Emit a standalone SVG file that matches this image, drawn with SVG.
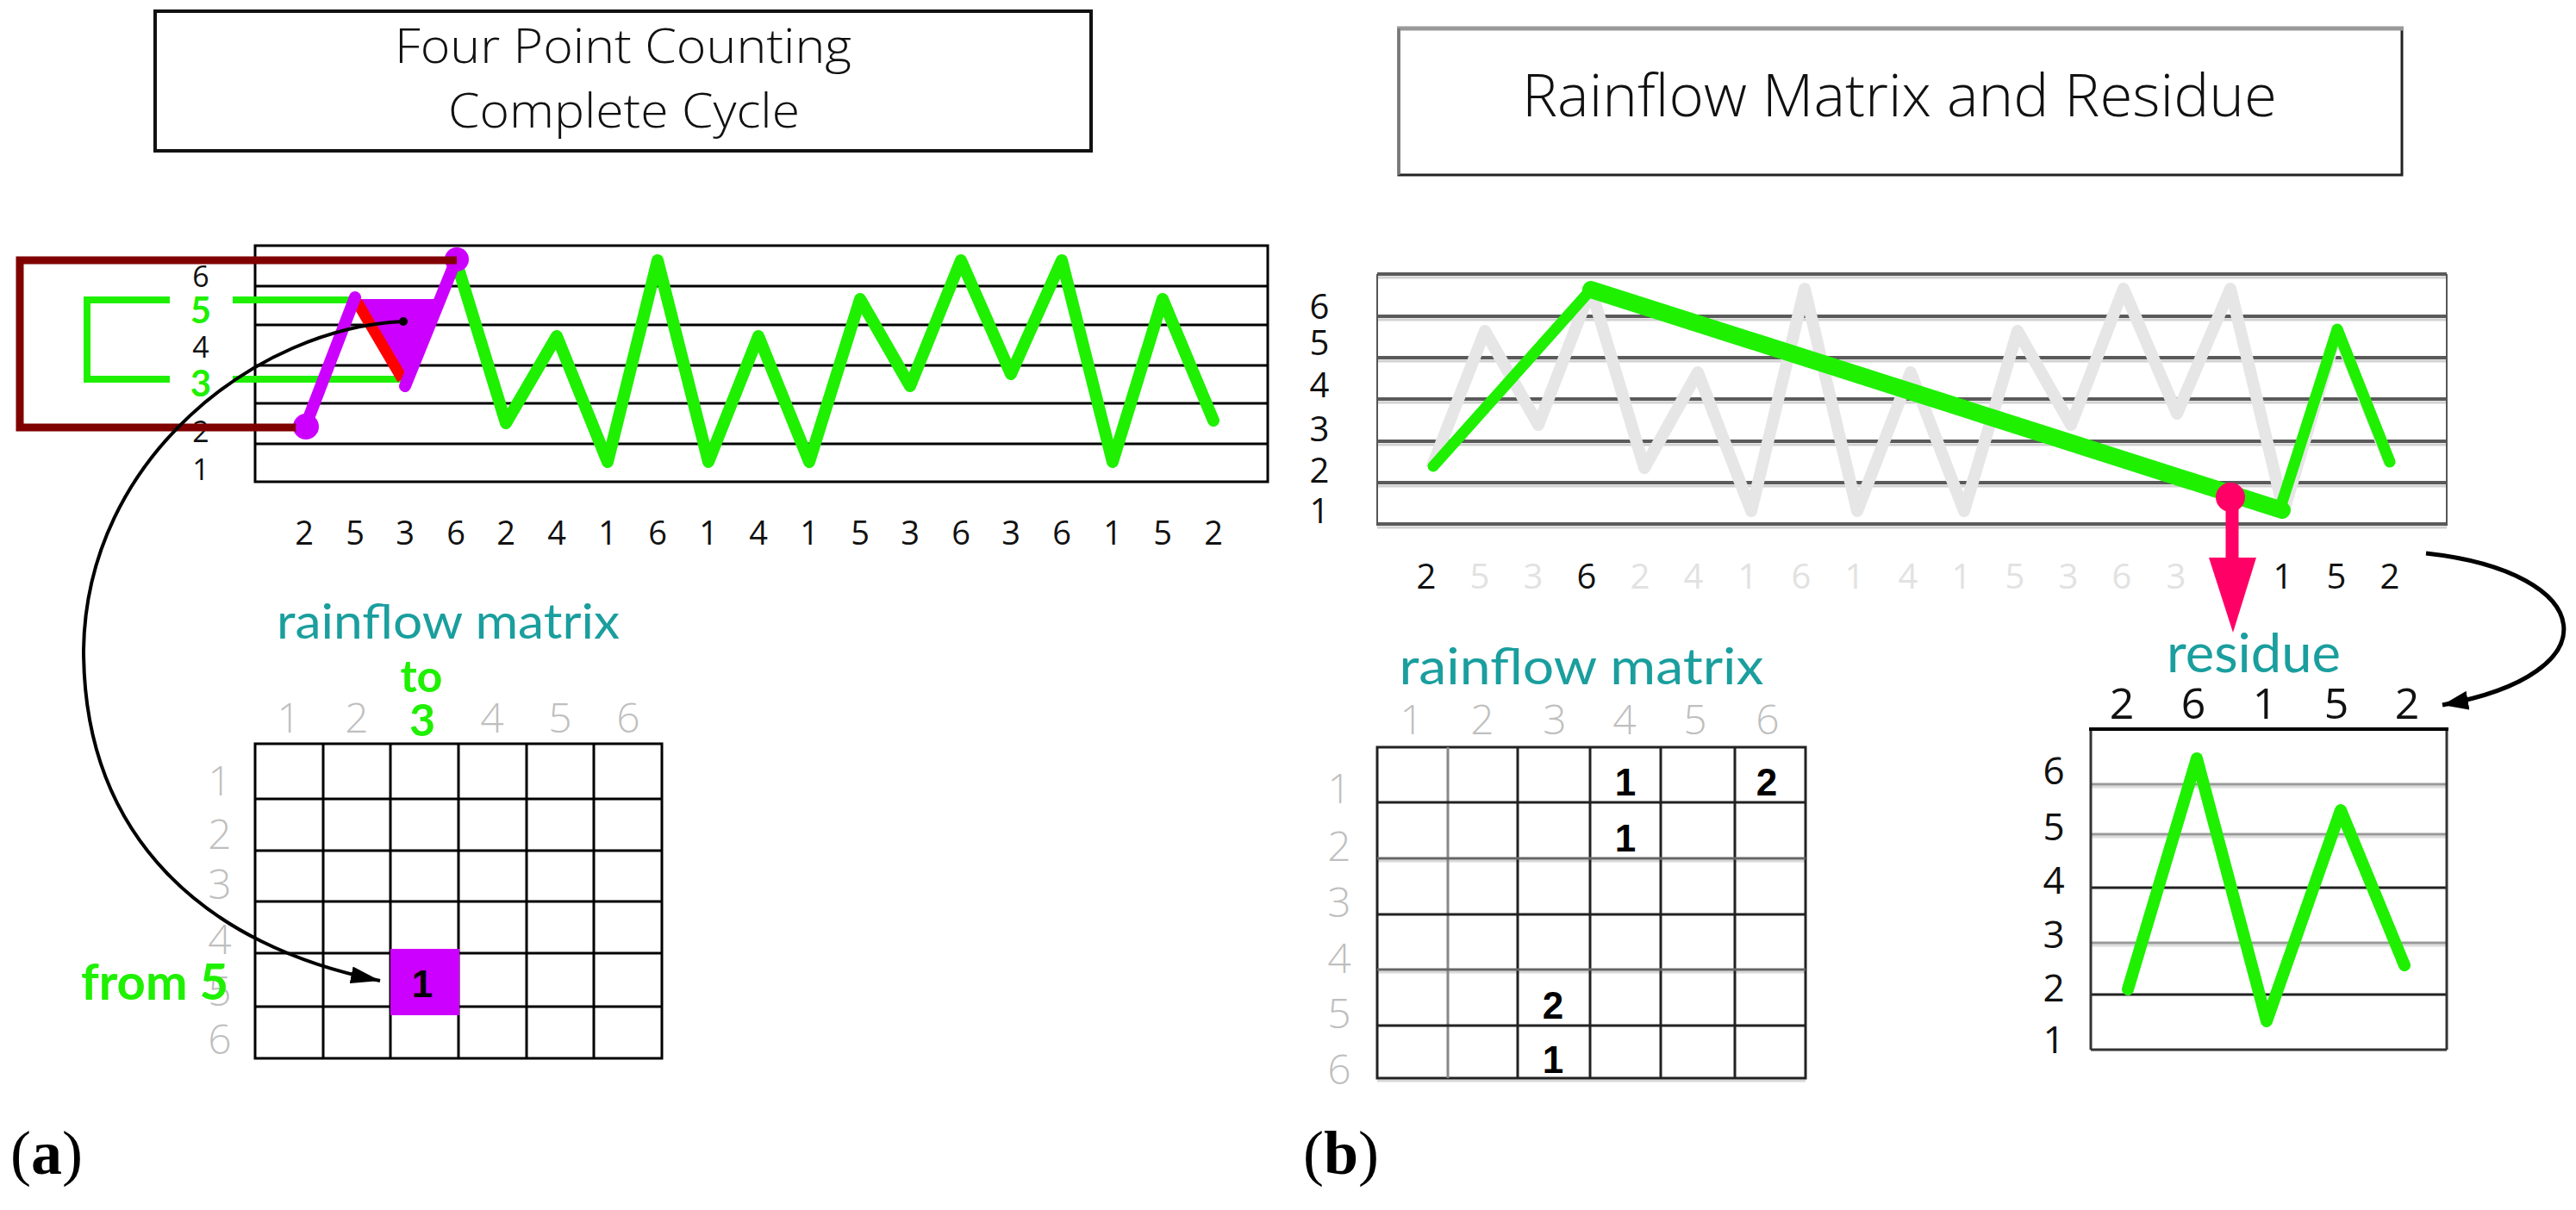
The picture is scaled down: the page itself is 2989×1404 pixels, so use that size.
<svg xmlns="http://www.w3.org/2000/svg" width="2989" height="1404" viewBox="0 0 2989 1404">
<defs>
<style>
.os{font-family:"Open Sans","Liberation Sans",sans-serif}
.title{font-family:"Open Sans","Liberation Sans",sans-serif;font-weight:300;fill:#111;text-anchor:middle}
.ax{font-family:"Open Sans","Liberation Sans",sans-serif;fill:#111;text-anchor:middle}
.gl{font-family:"Open Sans","Liberation Sans",sans-serif;font-weight:300;fill:#bfbfbf;text-anchor:middle;font-size:48px}
.lg{font-family:"Open Sans","Liberation Sans",sans-serif;fill:#e2e2e2;text-anchor:middle;font-size:40px}
.teal{font-family:Lato,"Open Sans",sans-serif;fill:#1a9e9e;text-anchor:middle}
.gb{font-family:Lato,"Liberation Sans",sans-serif;font-weight:bold;fill:#1ef000}
.bd{font-family:"Liberation Sans",Arial,sans-serif;font-weight:bold;font-size:44px;text-anchor:middle;fill:#000}
.pl{font-family:"Liberation Serif","Times New Roman",serif;font-size:72px;fill:#000}
.grid{stroke:#000;stroke-width:3;fill:none}
.green{stroke:#1ef000;fill:none;stroke-linecap:round;stroke-linejoin:round}
.purple{stroke:#cc00ff;fill:none;stroke-width:14;stroke-linecap:round}
</style>
<marker id="ah" markerUnits="userSpaceOnUse" markerWidth="34" markerHeight="20" viewBox="0 0 34 20" refX="34" refY="10" orient="auto">
<path d="M0,0 L34,10 L0,20 z" fill="#000"/>
</marker>
<marker id="ah2" markerUnits="userSpaceOnUse" markerWidth="30" markerHeight="22" viewBox="0 0 30 22" refX="30" refY="11" orient="auto">
<path d="M0,0 L30,11 L0,22 z" fill="#000"/>
</marker>
</defs>
<rect width="2989" height="1404" fill="#fff"/>

<!-- Title boxes -->
<g id="title-a">
<rect x="180" y="13" width="1086" height="162" fill="#fff" stroke="#111" stroke-width="4"/>
<text class="title" x="723" y="73" font-size="56" textLength="530" lengthAdjust="spacingAndGlyphs">Four Point Counting</text>
<text class="title" x="724" y="148" font-size="56" textLength="408" lengthAdjust="spacingAndGlyphs">Complete Cycle</text>
</g>
<g id="title-b">
<rect x="1623" y="33" width="1164" height="170" fill="#fff" stroke="#222" stroke-width="3"/>
<line x1="1621" y1="33" x2="2789" y2="33" stroke="#999" stroke-width="5"/>
<line x1="1623" y1="33" x2="1623" y2="203" stroke="#777" stroke-width="3"/>
<text class="title" x="2204" y="135" font-size="68" textLength="876" lengthAdjust="spacingAndGlyphs">Rainflow Matrix and Residue</text>
</g>

<!-- Chart (a) -->
<g id="chart-a">
<rect x="296" y="285" width="1175" height="274" class="grid"/>
<path class="grid" d="M296 332H1471M296 377H1471M296 424H1471M296 468H1471M296 515H1471"/>
<g class="ax" font-size="34">
<text x="233" y="333">6</text>
<text x="233" y="415">4</text>
<text x="233" y="513">2</text>
<text x="233" y="557">1</text>
</g>
<text class="gb" x="233" y="375" font-size="42" text-anchor="middle">5</text>
<text class="gb" x="233" y="460" font-size="42" text-anchor="middle">3</text>
<g class="ax" font-size="38">
<text x="353" y="632">2</text><text x="412" y="632">5</text><text x="470" y="632">3</text><text x="529" y="632">6</text>
<text x="587" y="632">2</text><text x="646" y="632">4</text><text x="705" y="632">1</text><text x="763" y="632">6</text>
<text x="822" y="632">1</text><text x="880" y="632">4</text><text x="939" y="632">1</text><text x="998" y="632">5</text>
<text x="1056" y="632">3</text><text x="1115" y="632">6</text><text x="1173" y="632">3</text><text x="1232" y="632">6</text>
<text x="1291" y="632">1</text><text x="1349" y="632">5</text><text x="1408" y="632">2</text>
</g>
<path d="M197 348H101V440H197M270 348H412M270 440H470" stroke="#1ef000" stroke-width="8" fill="none"/>
<polyline class="green" stroke-width="14" points="529,302 587,491 646,390 705,536 763,302 822,536 880,390 939,536 998,347 1056,448 1115,302 1173,434 1232,302 1291,536 1349,347 1408,488"/>
<polygon points="412,347 508,347 470,448" fill="#cc00ff"/>
<line x1="414" y1="350" x2="467" y2="440" stroke="#ff0000" stroke-width="13"/>
<path class="purple" d="M355 493L412 345M470 448L529 302"/>
<circle cx="355" cy="495" r="15" fill="#cc00ff"/>
<circle cx="530" cy="301" r="14" fill="#cc00ff"/>
<path d="M530 302H23V496H356" fill="none" stroke="#800000" stroke-width="9" stroke-linejoin="miter"/>
<circle cx="355" cy="496" r="12" fill="#cc00ff"/>
</g>

<!-- Matrix (a) -->
<g id="matrix-a">
<text class="teal" x="520" y="741" font-size="56" textLength="398" lengthAdjust="spacingAndGlyphs">rainflow matrix</text>
<text class="gb" x="489" y="803" font-size="52" text-anchor="middle">to</text>
<g class="gl">
<text x="335" y="850">1</text><text x="414" y="850">2</text><text x="571" y="850">4</text><text x="650" y="850">5</text><text x="729" y="850">6</text>
<text x="255" y="923">1</text><text x="255" y="985">2</text><text x="255" y="1043">3</text><text x="255" y="1107">4</text><text x="255" y="1167">5</text><text x="255" y="1223">6</text>
</g>
<text class="gb" x="490" y="854" font-size="52" text-anchor="middle">3</text>
<rect x="296" y="863" width="472" height="365" class="grid"/>
<path class="grid" d="M375 863V1228M453 863V1228M532 863V1228M611 863V1228M689 863V1228M296 927H768M296 987H768M296 1046H768M296 1106H768M296 1168H768"/>
<rect x="453" y="1101" width="80" height="77" fill="#cc00ff"/>
<text class="bd" x="490" y="1157">1</text>
<text class="gb" x="94" y="1160" font-size="58">from 5</text>
</g>

<!-- Chart (b) -->
<g id="chart-b">
<g stroke="#d2d2d2" stroke-width="3">
<path d="M1598 322H2839M1598 371H2839M1598 419H2839M1598 467H2839M1598 516H2839M1598 564H2839M1598 612H2839"/>
</g>
<g stroke="#5a5a5a" stroke-width="4">
<path d="M1598 318H2839M1598 367H2839M1598 415H2839M1598 463H2839M1598 512H2839M1598 560H2839M1598 608H2839"/>
</g>
<path d="M1598 318V610M2839 318V610" stroke="#555" stroke-width="2"/>
<g class="ax" font-size="40">
<text x="1531" y="370">6</text><text x="1531" y="412">5</text><text x="1531" y="461">4</text>
<text x="1531" y="512">3</text><text x="1531" y="560">2</text><text x="1531" y="607">1</text>
</g>
<polyline fill="none" stroke="#e6e6e6" stroke-width="14" stroke-linejoin="round" points="1661,543 1723,384 1785,493 1846,335 1908,543 1970,432 2032,593 2094,335 2155,593 2217,432 2279,593 2341,384 2403,493 2464,335 2526,480 2588,335 2650,593 2712,384 2773,538"/>
<path class="green" stroke-width="13" d="M1663 541L1846 336"/>
<path class="green" stroke-width="20" stroke-linecap="butt" d="M1846 336L2648 592"/>
<path class="green" stroke-width="13" d="M2645 592L2712 382L2773 536"/>
<g class="ax" font-size="40">
<text x="1655" y="683">2</text><text x="1841" y="683">6</text>
<text x="2649" y="683">1</text><text x="2711" y="683">5</text><text x="2773" y="683">2</text>
</g>
<g class="lg">
<text x="1717" y="683">5</text><text x="1779" y="683">3</text><text x="1903" y="683">2</text><text x="1965" y="683">4</text>
<text x="2028" y="683">1</text><text x="2090" y="683">6</text><text x="2152" y="683">1</text><text x="2214" y="683">4</text>
<text x="2276" y="683">1</text><text x="2338" y="683">5</text><text x="2400" y="683">3</text><text x="2462" y="683">6</text>
<text x="2525" y="683">3</text>
</g>
</g>

<!-- Matrix (b) -->
<g id="matrix-b">
<text class="teal" x="1835" y="794" font-size="58" textLength="423" lengthAdjust="spacingAndGlyphs">rainflow matrix</text>
<g class="gl">
<text x="1638" y="852">1</text><text x="1720" y="852">2</text><text x="1804" y="852">3</text><text x="1885" y="852">4</text><text x="1967" y="852">5</text><text x="2051" y="852">6</text>
<text x="1554" y="932">1</text><text x="1554" y="999">2</text><text x="1554" y="1064">3</text><text x="1554" y="1129">4</text><text x="1554" y="1193">5</text><text x="1554" y="1258">6</text>
</g>
<path d="M1598 999H2095M1598 1128H2095M1598 1254H2095" stroke="#d8d8d8" stroke-width="3"/>
<rect x="1598" y="867" width="497" height="384" fill="none" stroke="#222" stroke-width="3"/>
<path d="M1680 867V1251" stroke="#888" stroke-width="3"/>
<path d="M1761 867V1251M1845 867V1251M1927 867V1251M2013 867V1251M1598 931H2095M1598 1061H2095M1598 1190H2095" stroke="#222" stroke-width="3"/>
<path d="M1598 996H2095M1598 1125H2095" stroke="#666" stroke-width="3"/>
<text class="bd" x="1886" y="923">1</text>
<text class="bd" x="2050" y="923">2</text>
<text class="bd" x="1886" y="988">1</text>
<text class="bd" x="1802" y="1182">2</text>
<text class="bd" x="1802" y="1245">1</text>
</g>

<!-- Residue -->
<g id="residue">
<text class="teal" x="2615" y="780" font-size="62" textLength="202" lengthAdjust="spacingAndGlyphs">residue</text>
<g class="ax" font-size="50">
<text x="2462" y="834">2</text><text x="2545" y="834">6</text><text x="2628" y="834">1</text><text x="2711" y="834">5</text><text x="2793" y="834">2</text>
</g>
<g class="ax" font-size="44">
<text x="2383" y="910">6</text><text x="2383" y="975">5</text><text x="2383" y="1037">4</text>
<text x="2383" y="1100">3</text><text x="2383" y="1162">2</text><text x="2383" y="1222">1</text>
</g>
<path d="M2426 913H2839M2426 971H2839M2426 1097H2839" stroke="#dcdcdc" stroke-width="3"/>
<path d="M2426 910H2839M2426 968H2839M2426 1094H2839" stroke="#999" stroke-width="3"/>
<path d="M2426 1030H2839M2426 1154H2839" stroke="#222" stroke-width="3"/>
<path d="M2426 1218H2839M2426 846V1218M2839 846V1218" stroke="#333" stroke-width="3" fill="none"/>
<line x1="2424" y1="846" x2="2841" y2="846" stroke="#000" stroke-width="4"/>
<polyline class="green" stroke-width="14" points="2469,1148 2549,880 2630,1185 2716,940 2790,1120"/>
</g>

<!-- Connectors -->
<g id="connectors">
<circle cx="468" cy="373" r="5" fill="#000"/>
<path d="M468 373C300 380 100 530 97 754C97 974 241 1098 441 1138" fill="none" stroke="#000" stroke-width="4" marker-end="url(#ah)"/>
<path d="M2815 642C3015 664 3034 782 2834 818" fill="none" stroke="#000" stroke-width="5" marker-end="url(#ah2)"/>
<circle cx="2588" cy="577" r="17" fill="#ff0066"/>
<line x1="2590" y1="577" x2="2590" y2="650" stroke="#ff0066" stroke-width="15"/>
<polygon points="2563,647 2618,647 2591,734" fill="#ff0066"/>
</g>

<!-- Panel labels -->
<text class="pl" x="12" y="1362">(<tspan font-weight="bold">a</tspan>)</text>
<text class="pl" x="1512" y="1362">(<tspan font-weight="bold">b</tspan>)</text>
</svg>
